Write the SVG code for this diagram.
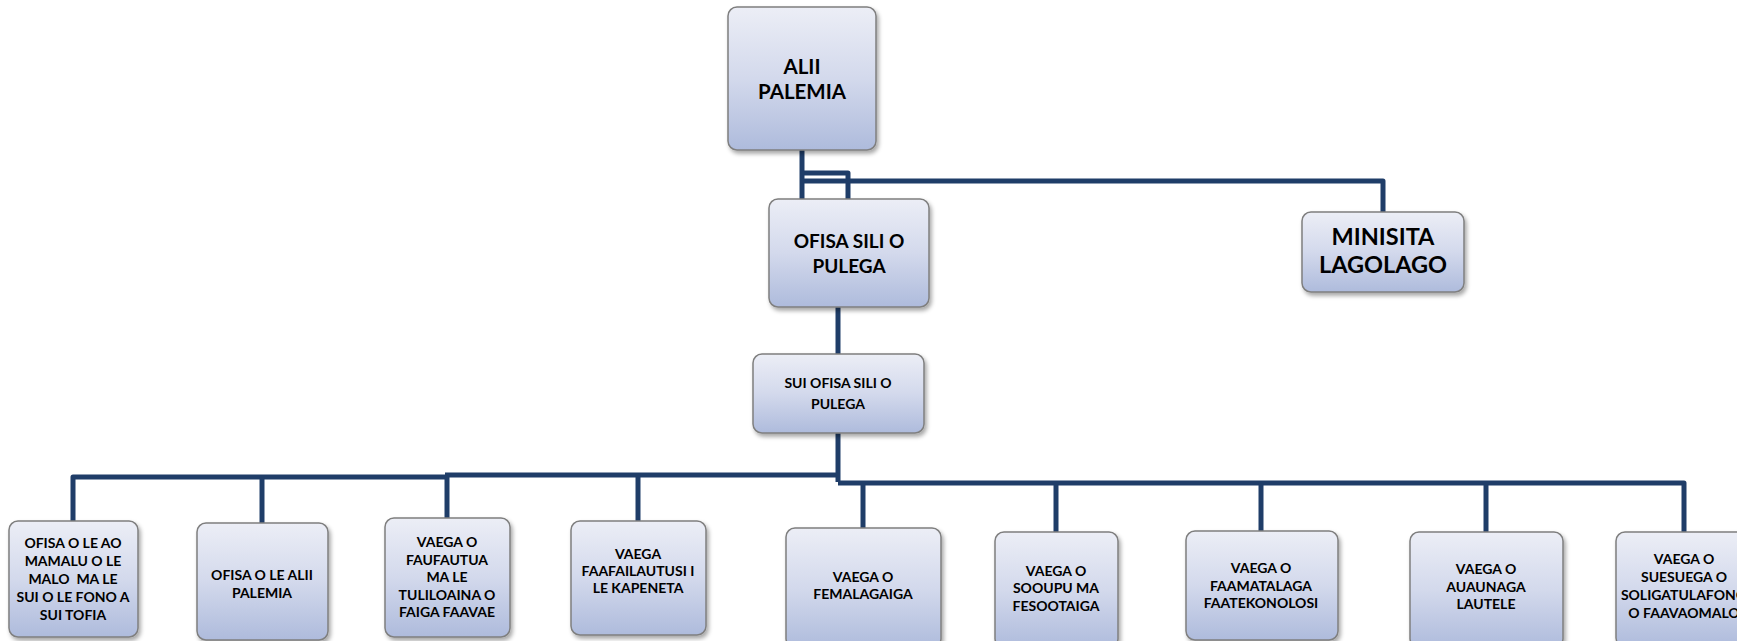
<svg xmlns="http://www.w3.org/2000/svg" width="1737" height="641" viewBox="0 0 1737 641">
<defs>
<linearGradient id="g" x1="0" y1="0" x2="0" y2="1">
<stop offset="0" stop-color="#ECEEF6"/>
<stop offset="0.5" stop-color="#D3D9EC"/>
<stop offset="1" stop-color="#AEBBDC"/>
</linearGradient>
<filter id="sh" x="-10%" y="-10%" width="130%" height="130%">
<feDropShadow dx="2" dy="3" stdDeviation="2" flood-color="#000" flood-opacity="0.35"/>
</filter>
</defs>
<style>
.box{fill:url(#g);stroke:#7F7F7F;stroke-width:1.5;filter:url(#sh)}
.t{font-family:Lato,"Liberation Sans",sans-serif;font-weight:bold;fill:#000;text-anchor:middle}
.s{font-size:14px}
.c{fill:none;stroke:#1F3D68;stroke-width:5;stroke-linejoin:round}
</style>
<g id="connectors">
<path class="c" d="M802,150 V199"/>
<path class="c" d="M802,173 H848 V199"/>
<path class="c" d="M802,181 H1383 V212"/>
<path class="c" d="M838,307 V354"/>
<path class="c" d="M838,433 V482"/>
<path class="c" d="M838,475 H445"/>
<path class="c" d="M447,477 H73 V521"/>
<path class="c" d="M262,477 V523"/>
<path class="c" d="M447,475 V518"/>
<path class="c" d="M638,475 V521"/>
<path class="c" d="M838,483 H1684 V532"/>
<path class="c" d="M863,483 V528"/>
<path class="c" d="M1056,483 V532"/>
<path class="c" d="M1261,483 V531"/>
<path class="c" d="M1486,483 V532"/>
</g>
<g id="alii-palemia">
<rect class="box" x="728" y="7" width="148" height="143" rx="9"/>
<text class="t" x="802" y="74" font-size="20.5">ALII</text>
<text class="t" x="802" y="99" font-size="20.5">PALEMIA</text>
</g>
<g id="ofisa-sili">
<rect class="box" x="769" y="199" width="160" height="108" rx="9"/>
<text class="t" x="849" y="248" font-size="19">OFISA SILI O</text>
<text class="t" x="849" y="273" font-size="19">PULEGA</text>
</g>
<g id="minisita">
<rect class="box" x="1302" y="212" width="162" height="80" rx="9"/>
<text class="t" x="1383" y="245" font-size="23.5">MINISITA</text>
<text class="t" x="1383" y="273" font-size="23.5">LAGOLAGO</text>
</g>
<g id="sui-ofisa">
<rect class="box" x="753" y="354" width="171" height="79" rx="9"/>
<text class="t" x="838" y="388" font-size="14">SUI OFISA SILI O</text>
<text class="t" x="838" y="409" font-size="14">PULEGA</text>
</g>
<g id="b1">
<rect class="box" x="9" y="521" width="129" height="116" rx="9"/>
<text class="t s" x="73" y="548">OFISA O LE AO</text>
<text class="t s" x="73" y="566">MAMALU O LE</text>
<text class="t s" x="73" y="584" xml:space="preserve">MALO  MA LE</text>
<text class="t s" x="73" y="602">SUI O LE FONO A</text>
<text class="t s" x="73" y="620">SUI TOFIA</text>
</g>
<g id="b2">
<rect class="box" x="197" y="523" width="131" height="117" rx="9"/>
<text class="t s" x="262" y="580">OFISA O LE ALII</text>
<text class="t s" x="262" y="598">PALEMIA</text>
</g>
<g id="b3">
<rect class="box" x="385" y="518" width="125" height="119" rx="9"/>
<text class="t s" x="447" y="547">VAEGA O</text>
<text class="t s" x="447" y="564.5">FAUFAUTUA</text>
<text class="t s" x="447" y="582">MA LE</text>
<text class="t s" x="447" y="599.5">TULILOAINA O</text>
<text class="t s" x="447" y="617">FAIGA FAAVAE</text>
</g>
<g id="b4">
<rect class="box" x="571" y="521" width="135" height="114" rx="9"/>
<text class="t s" x="638" y="559">VAEGA</text>
<text class="t s" x="638" y="576">FAAFAILAUTUSI I</text>
<text class="t s" x="638" y="593">LE KAPENETA</text>
</g>
<g id="b5">
<rect class="box" x="786" y="528" width="155" height="120" rx="9"/>
<text class="t s" x="863" y="582">VAEGA O</text>
<text class="t s" x="863" y="599">FEMALAGAIGA</text>
</g>
<g id="b6">
<rect class="box" x="995" y="532" width="123" height="116" rx="9"/>
<text class="t s" x="1056" y="576">VAEGA O</text>
<text class="t s" x="1056" y="593">SOOUPU MA</text>
<text class="t s" x="1056" y="611">FESOOTAIGA</text>
</g>
<g id="b7">
<rect class="box" x="1186" y="531" width="152" height="109" rx="9"/>
<text class="t s" x="1261" y="573">VAEGA O</text>
<text class="t s" x="1261" y="591">FAAMATALAGA</text>
<text class="t s" x="1261" y="608">FAATEKONOLOSI</text>
</g>
<g id="b8">
<rect class="box" x="1410" y="532" width="153" height="116" rx="9"/>
<text class="t s" x="1486" y="574">VAEGA O</text>
<text class="t s" x="1486" y="592">AUAUNAGA</text>
<text class="t s" x="1486" y="609">LAUTELE</text>
</g>
<g id="b9">
<rect class="box" x="1616" y="532" width="160" height="115" rx="9"/>
<text class="t s" x="1684" y="564">VAEGA O</text>
<text class="t s" x="1684" y="582">SUESUEGA O</text>
<text class="t s" x="1684" y="600">SOLIGATULAFONO</text>
<text class="t s" x="1684" y="618">O FAAVAOMALO</text>
</g>
</svg>
